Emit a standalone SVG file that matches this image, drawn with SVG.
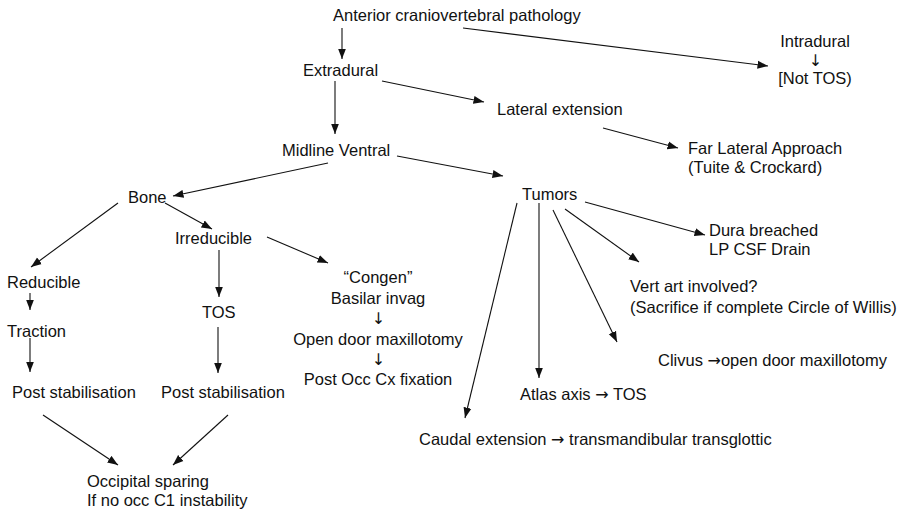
<svg xmlns="http://www.w3.org/2000/svg" width="898" height="520" viewBox="0 0 898 520">
<style>
text{font-family:"Liberation Sans",Arial,sans-serif;font-size:16.5px;fill:#111}
.c{text-anchor:middle}
.ar{font-family:"DejaVu Sans",sans-serif;font-size:16px}
.e line{stroke:#111;stroke-width:1.1;marker-end:url(#ah)}
</style>
<defs>
<marker id="ah" markerUnits="userSpaceOnUse" markerWidth="11" markerHeight="9" refX="10.5" refY="4.5" orient="auto">
<path d="M0,0.5 L10.5,4.5 L0,8.5 z" fill="#111"/>
</marker>
</defs>
<rect width="898" height="520" fill="#fff"/>
<g id="edges" class="e">
<line x1="342" y1="28" x2="342" y2="59"/>
<line x1="463" y1="28" x2="768" y2="66"/>
<line x1="335" y1="81" x2="335" y2="134"/>
<line x1="382" y1="81" x2="484" y2="102"/>
<line x1="603" y1="128" x2="678" y2="148"/>
<line x1="397" y1="156" x2="503" y2="176"/>
<line x1="328" y1="163" x2="173" y2="196"/>
<line x1="165" y1="203" x2="212" y2="229"/>
<line x1="118" y1="203" x2="31" y2="267"/>
<line x1="30" y1="293" x2="30" y2="310"/>
<line x1="30" y1="338" x2="30" y2="372"/>
<line x1="219" y1="250" x2="219" y2="297"/>
<line x1="218" y1="327" x2="218" y2="373"/>
<line x1="267" y1="237" x2="328" y2="263"/>
<line x1="43" y1="415" x2="118" y2="465"/>
<line x1="228" y1="415" x2="173" y2="465"/>
<line x1="585" y1="202" x2="705" y2="235"/>
<line x1="565" y1="209" x2="639" y2="262"/>
<line x1="553" y1="210" x2="617" y2="342"/>
<line x1="539" y1="203" x2="539" y2="378"/>
<line x1="517" y1="203" x2="465" y2="418"/>
</g>
<g id="n-anterior"><text x="333" y="21">Anterior craniovertebral pathology</text></g>
<g id="n-intradural">
<text x="815" y="47" class="c">Intradural</text>
<text x="815.5" y="66" class="c ar">↓</text>
<text x="815" y="84" class="c">[Not TOS)</text>
</g>
<g id="n-extradural"><text x="303" y="76">Extradural</text></g>
<g id="n-lateral"><text x="497" y="115">Lateral extension</text></g>
<g id="n-farlateral">
<text x="688" y="154">Far Lateral Approach</text>
<text x="688" y="173">(Tuite &amp; Crockard)</text>
</g>
<g id="n-midline"><text x="282" y="156">Midline Ventral</text></g>
<g id="n-tumors"><text x="522" y="200">Tumors</text></g>
<g id="n-bone"><text x="128" y="203">Bone</text></g>
<g id="n-irreducible"><text x="175" y="244">Irreducible</text></g>
<g id="n-dura">
<text x="709" y="236">Dura breached</text>
<text x="709" y="255">LP CSF Drain</text>
</g>
<g id="n-reducible"><text x="7" y="288">Reducible</text></g>
<g id="n-congen">
<text x="378" y="283" class="c">“Congen”</text>
<text x="378" y="303.5" class="c">Basilar invag</text>
<text x="378.5" y="324" class="c ar">↓</text>
<text x="378" y="344.5" class="c">Open door maxillotomy</text>
<text x="378.5" y="365" class="c ar">↓</text>
<text x="378" y="385" class="c">Post Occ Cx fixation</text>
</g>
<g id="n-vertart">
<text x="630" y="292">Vert art involved?</text>
<text x="630" y="313">(Sacrifice if complete Circle of Willis)</text>
</g>
<g id="n-tos"><text x="202" y="318">TOS</text></g>
<g id="n-traction"><text x="7" y="337">Traction</text></g>
<g id="n-clivus"><text x="658" y="366">Clivus <tspan class="ar">→</tspan>open door maxillotomy</text></g>
<g id="n-post1"><text x="12" y="398">Post stabilisation</text></g>
<g id="n-post2"><text x="161" y="398">Post stabilisation</text></g>
<g id="n-atlas"><text x="520" y="400">Atlas axis <tspan class="ar">→</tspan> TOS</text></g>
<g id="n-caudal"><text x="419" y="445">Caudal extension <tspan class="ar">→</tspan> transmandibular transglottic</text></g>
<g id="n-occipital">
<text x="87" y="487">Occipital sparing</text>
<text x="87" y="506">If no occ C1 instability</text>
</g>
</svg>
